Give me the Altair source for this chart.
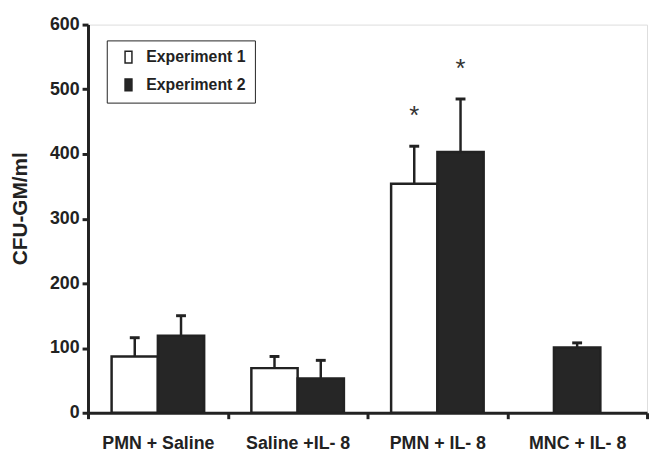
import altair as alt
import pandas as pd

categories = ["PMN + Saline", "Saline +IL- 8", "PMN + IL- 8", "MNC + IL- 8"]
experiments = ["Experiment 1", "Experiment 2"]
exp1_values = [87, 69, 354, None]
exp1_errors = [29, 18, 58, None]
exp2_values = [119, 53, 403, 101]
exp2_errors = [31, 28, 82, 7]
exp1_sig = [False, False, True, False]
exp2_sig = [False, False, True, False]
y_ticks = [0, 100, 200, 300, 400, 500, 600]

rows = []
for i, c in enumerate(categories):
    for exp, vals, errs, sig in [
        ("Experiment 1", exp1_values, exp1_errors, exp1_sig),
        ("Experiment 2", exp2_values, exp2_errors, exp2_sig),
    ]:
        if vals[i] is None:
            continue
        rows.append({"category": c, "experiment": exp, "value": vals[i],
                     "top": vals[i] + errs[i], "sig": sig[i]})
df = pd.DataFrame(rows)
counts = df.groupby("category")["experiment"].transform("count")
df["single"] = counts == 1

FONT = "Liberation Sans"
INK = "#222222"

x_enc = alt.X("category:N", sort=categories,
              scale=alt.Scale(domain=categories, paddingInner=0, paddingOuter=0),
              axis=alt.Axis(title=None, tickBand="extent", labelAngle=0,
                            labelFont=FONT, labelFontSize=18, labelFontWeight="bold",
                            labelColor=INK, labelPadding=16, tickSize=6, tickWidth=3,
                            tickColor=INK, domainWidth=3, domainColor=INK))
xoff_enc = alt.XOffset("experiment:N",
                       scale=alt.Scale(domain=experiments, paddingInner=0, paddingOuter=0.51))
y_enc = alt.Y("value:Q",
              scale=alt.Scale(domain=[0, 600], nice=False),
              axis=alt.Axis(title="CFU-GM/ml", values=y_ticks, grid=False,
                            labelFont=FONT, labelFontSize=18, labelFontWeight="bold",
                            labelColor=INK, labelPadding=3, tickSize=6, tickWidth=3,
                            tickColor=INK, domainWidth=3, domainColor=INK,
                            titleFont=FONT, titleFontSize=21, titleFontWeight="bold",
                            titleColor=INK, titleAngle=270, titleAlign="center",
                            titleBaseline="middle", titleX=-68, titleY=186))
fill_enc = alt.Fill("experiment:N",
                    scale=alt.Scale(domain=experiments, range=["#ffffff", "#262626"]),
                    legend=alt.Legend(title=None, orient="none", legendX=19, legendY=16,
                                      padding=9, rowPadding=10, symbolOffset=5,
                                      symbolType="M-0.58,-1H0.58V1H-0.58Z", symbolSize=144,
                                      symbolStrokeColor=INK, symbolStrokeWidth=1.5,
                                      labelFont=FONT, labelFontSize=16, labelFontWeight="bold",
                                      labelColor=INK, labelOffset=10,
                                      strokeColor=INK, fillColor="white"))

base = alt.Chart(df)
pair = base.transform_filter("!datum.single")
solo = base.transform_filter("datum.single")

bars_pair = pair.mark_bar(stroke=INK, strokeWidth=2.5).encode(
    x=x_enc, xOffset=xoff_enc, y=y_enc, fill=fill_enc)
bars_solo = solo.mark_bar(stroke=INK, strokeWidth=2.5, size=47).encode(
    x=x_enc, y=y_enc, fill=fill_enc)

err_pair = pair.mark_rule(color=INK, strokeWidth=2.5).encode(
    x=x_enc, xOffset=xoff_enc, y="value:Q", y2="top:Q")
err_solo = solo.mark_rule(color=INK, strokeWidth=2.5).encode(
    x=x_enc, y="value:Q", y2="top:Q")
cap_pair = pair.mark_tick(color=INK, size=10, thickness=3, opacity=1).encode(
    x=x_enc, xOffset=xoff_enc, y="top:Q")
cap_solo = solo.mark_tick(color=INK, size=10, thickness=3, opacity=1).encode(
    x=x_enc, y="top:Q")

stars = pair.transform_filter("datum.sig").mark_text(
    text="*", font=FONT, fontSize=26, color="#333333", dy=-30, baseline="middle").encode(
    x=x_enc, xOffset=xoff_enc, y="top:Q")

chart = alt.layer(bars_pair, bars_solo, err_pair, err_solo, cap_pair, cap_solo, stars).properties(
    width=566, height=393,
    autosize=alt.AutoSizeParams(type="none"),
    padding={"left": 81, "top": 14, "right": 2, "bottom": 42},
).configure_view(stroke=None).configure_legend(strokeWidth=2).configure(background="white")

chart.save("out.html", embed_options={"renderer": "svg", "actions": False})
